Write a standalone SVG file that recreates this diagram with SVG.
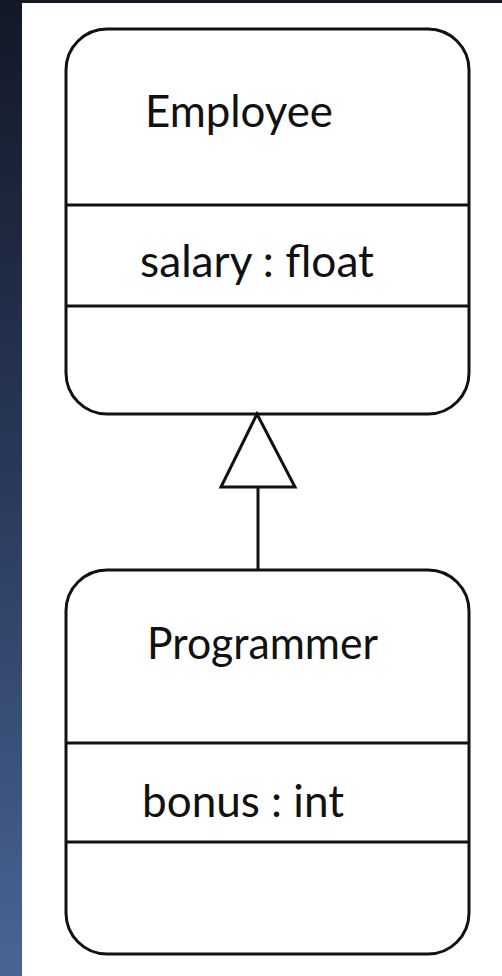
<svg xmlns="http://www.w3.org/2000/svg" width="502" height="976" viewBox="0 0 502 976">
  <defs>
    <linearGradient id="bg" x1="0" y1="0" x2="0" y2="1">
      <stop offset="0" stop-color="#121826"/>
      <stop offset="0.5" stop-color="#2a3a5c"/>
      <stop offset="1" stop-color="#4a6494"/>
    </linearGradient>
    <style>
      .box { fill: #ffffff; stroke: #111111; stroke-width: 3; }
      .div { stroke: #111111; stroke-width: 3; fill: none; }
      .lbl { font-family: Lato, "Open Sans", "Noto Sans", sans-serif; font-size: 44px; fill: #111111; }
      .conn { stroke: #111111; stroke-width: 3; fill: #ffffff; }
    </style>
  </defs>
  <rect x="0" y="0" width="502" height="976" fill="url(#bg)"/>
  <rect x="22" y="3" width="480" height="973" fill="#ffffff"/>

  <g id="employee">
    <rect class="box" x="66" y="29" width="403" height="385" rx="41" ry="41"/>
    <line class="div" x1="66" y1="205" x2="469" y2="205"/>
    <line class="div" x1="66" y1="306" x2="469" y2="306"/>
    <text class="lbl" x="145" y="127" textLength="188" lengthAdjust="spacingAndGlyphs">Employee</text>
    <text class="lbl" x="140" y="277" textLength="234" lengthAdjust="spacingAndGlyphs">salary : float</text>
  </g>

  <g id="programmer">
    <rect class="box" x="66" y="570" width="403" height="384" rx="41" ry="41"/>
    <line class="div" x1="66" y1="743" x2="469" y2="743"/>
    <line class="div" x1="66" y1="842" x2="469" y2="842"/>
    <text class="lbl" x="147" y="659" textLength="231" lengthAdjust="spacingAndGlyphs">Programmer</text>
    <text class="lbl" x="142" y="817" textLength="202" lengthAdjust="spacingAndGlyphs">bonus : int</text>
  </g>

  <g id="connectors">
    <line class="conn" x1="258" y1="487" x2="258" y2="570"/>
    <polygon class="conn" points="257,414 221,487 295,487" stroke-linejoin="miter"/>
  </g>
</svg>
